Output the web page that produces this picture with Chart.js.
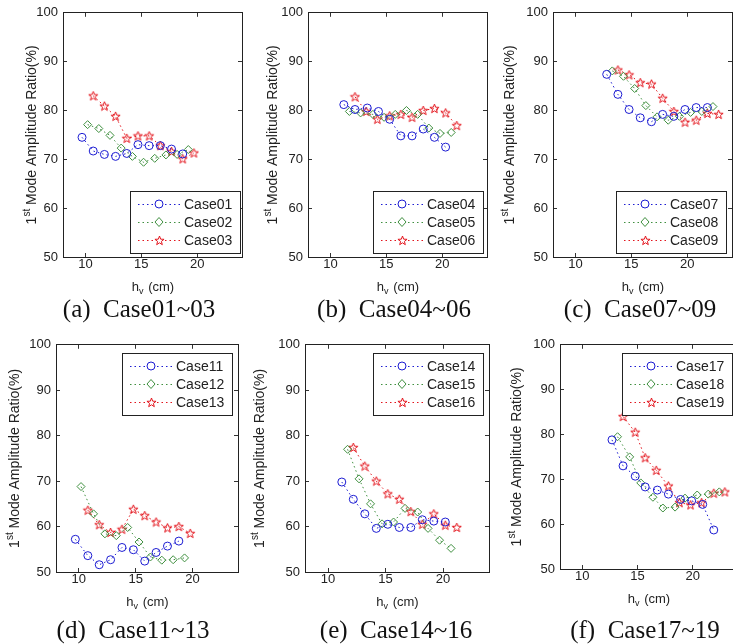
<!DOCTYPE html>
<html>
<head>
<meta charset="utf-8">
<title>1st Mode Amplitude Ratio</title>
<script src="https://cdn.jsdelivr.net/npm/chart.js@4.4.1/dist/chart.umd.min.js"></script>
<style>
    body { margin: 0; width: 733px; height: 644px; overflow: hidden; background: #fff; position: relative; }
    canvas { position: absolute; }
    .caption {
        position: absolute;
        font-family: 'Liberation Serif', 'Times New Roman', serif;
        font-size: 25px;
        line-height: 28px;
        color: #111;
        white-space: pre;
        transform: translateX(-50%);
    }
</style>
</head>
<body>
<script>
// h_v (cm) / amplitude ratio (%) pairs for each case
const case01 = [[9.7, 74.5], [10.7, 71.7], [11.7, 71.0], [12.7, 70.6], [13.7, 71.2], [14.7, 73.0], [15.7, 72.8], [16.7, 72.8], [17.7, 72.1], [18.7, 71.1]];
const case02 = [[10.2, 77.1], [11.2, 76.3], [12.2, 74.9], [13.2, 72.3], [14.2, 70.6], [15.2, 69.4], [16.2, 70.2], [17.2, 70.9], [18.2, 71.0], [19.2, 72.0]];
const case03 = [[10.7, 83.0], [11.7, 80.9], [12.7, 78.8], [13.7, 74.3], [14.7, 74.8], [15.7, 74.8], [16.7, 72.8], [17.7, 71.6], [18.7, 70.1], [19.7, 71.3]];

const case04 = [[11.2, 81.2], [12.2, 80.2], [13.3, 80.5], [14.3, 79.8], [15.3, 78.2], [16.3, 74.8], [17.3, 74.8], [18.3, 76.2], [19.3, 74.5], [20.3, 72.5]];
const case05 = [[11.7, 79.8], [12.7, 79.5], [13.8, 79.2], [14.8, 78.6], [15.8, 79.2], [16.8, 80.0], [17.8, 79.2], [18.8, 76.4], [19.8, 75.3], [20.8, 75.5]];
const case06 = [[12.2, 82.8], [13.2, 79.8], [14.2, 78.2], [15.3, 78.9], [16.3, 79.2], [17.3, 78.6], [18.3, 80.0], [19.3, 80.4], [20.3, 79.5], [21.3, 76.9]];

const case07 = [[12.8, 87.4], [13.8, 83.3], [14.8, 80.2], [15.8, 78.5], [16.8, 77.7], [17.8, 79.2], [18.8, 78.8], [19.8, 80.2], [20.8, 80.6], [21.8, 80.6]];
const case08 = [[13.3, 88.1], [14.3, 87.0], [15.3, 84.5], [16.3, 81.0], [17.3, 78.7], [18.3, 78.0], [19.3, 78.8], [20.3, 79.6], [21.3, 79.8], [22.3, 80.8]];
const case09 = [[13.8, 88.3], [14.8, 87.3], [15.8, 85.7], [16.8, 85.4], [17.8, 82.5], [18.8, 79.8], [19.8, 77.6], [20.8, 78.0], [21.8, 79.4], [22.8, 79.2]];

const case11 = [[9.7, 57.2], [10.8, 53.6], [11.8, 51.6], [12.8, 52.7], [13.8, 55.4], [14.8, 54.9], [15.8, 52.4], [16.8, 54.3], [17.8, 55.7], [18.8, 56.8]];
const case12 = [[10.2, 68.8], [11.3, 62.8], [12.3, 58.4], [13.3, 58.0], [14.3, 59.8], [15.3, 56.6], [16.3, 53.3], [17.3, 52.6], [18.3, 52.7], [19.3, 53.1]];
const case13 = [[10.8, 63.6], [11.8, 60.4], [12.8, 58.7], [13.8, 59.4], [14.8, 63.8], [15.8, 62.4], [16.8, 61.0], [17.8, 59.7], [18.8, 60.0], [19.8, 58.5]];

const case14 = [[11.2, 69.8], [12.2, 66.0], [13.2, 62.8], [14.2, 59.6], [15.2, 60.5], [16.2, 59.8], [17.2, 59.8], [18.2, 61.5], [19.2, 61.2], [20.2, 61.0]];
const case15 = [[11.7, 77.0], [12.7, 70.5], [13.7, 65.0], [14.7, 60.6], [15.7, 61.0], [16.7, 64.0], [17.8, 63.2], [18.7, 59.6], [19.7, 57.0], [20.7, 55.2]];
const case16 = [[12.2, 77.4], [13.2, 73.3], [14.2, 70.0], [15.2, 67.2], [16.2, 66.0], [17.2, 63.3], [18.2, 60.5], [19.2, 62.8], [20.2, 60.3], [21.2, 59.8]];

const case17 = [[12.7, 78.8], [13.7, 73.0], [14.8, 70.7], [15.7, 68.3], [16.8, 67.6], [17.8, 66.7], [18.9, 65.5], [19.9, 65.2], [20.9, 64.4], [21.9, 58.7]];
const case18 = [[13.2, 79.5], [14.3, 75.0], [15.3, 69.2], [16.4, 66.0], [17.3, 63.6], [18.4, 63.8], [19.3, 65.8], [20.4, 66.5], [21.4, 66.7], [22.4, 67.2]];
const case19 = [[13.7, 84.0], [14.8, 80.5], [15.7, 74.8], [16.7, 72.0], [17.8, 68.5], [18.8, 64.8], [19.8, 64.3], [20.8, 64.8], [21.9, 66.9], [22.9, 67.2]];

const xTicks = [10, 15, 20];
const yTicks = [50, 60, 70, 80, 90, 100];

const panels = [
    { labels: ['Case01', 'Case02', 'Case03'], series: [case01, case02, case03], caption: '(a)  Case01~03' },
    { labels: ['Case04', 'Case05', 'Case06'], series: [case04, case05, case06], caption: '(b)  Case04~06' },
    { labels: ['Case07', 'Case08', 'Case09'], series: [case07, case08, case09], caption: '(c)  Case07~09' },
    { labels: ['Case11', 'Case12', 'Case13'], series: [case11, case12, case13], caption: '(d)  Case11~13' },
    { labels: ['Case14', 'Case15', 'Case16'], series: [case14, case15, case16], caption: '(e)  Case14~16' },
    { labels: ['Case17', 'Case18', 'Case19'], series: [case17, case18, case19], caption: '(f)  Case17~19' }
];

// plot rectangle of every panel on the page, legend corner and inset, y-title gap, caption centre
const boxes = [
    { l: 63, t: 13, r: 242, b: 257, legend: 'bottom', inset: 2, gap: 31, capX: 139, capY: 309 },
    { l: 308, t: 13, r: 487, b: 257, legend: 'bottom', inset: 4, gap: 35, capX: 394, capY: 309 },
    { l: 553, t: 13, r: 732, b: 257, legend: 'bottom', inset: 6, gap: 43, capX: 640, capY: 309 },
    { l: 56, t: 345, r: 238, b: 572, legend: 'top', inset: 6, gap: 41, capX: 133, capY: 630 },
    { l: 305, t: 345, r: 489, b: 572, legend: 'top', inset: 6, gap: 45, capX: 396, capY: 630 },
    { l: 560, t: 345, r: 737, b: 569, legend: 'top', inset: 5, gap: 43, capX: 645, capY: 630 }
];

const PAD_L = 56, PAD_T = 8, PAD_R = 6, PAD_B = 44;
const colors = ['#1c1cd2', '#3f8f3f', '#e3141c'];
const textColor = '#222';
const sansFont = "'Liberation Sans', Arial, sans-serif";

function makeStar(color) {
    const c = document.createElement('canvas');
    c.width = 11;
    c.height = 11;
    const g = c.getContext('2d');
    g.strokeStyle = color;
    g.lineWidth = 1;
    g.beginPath();
    for (let i = 0; i < 10; i++) {
        const r = i % 2 === 0 ? 4.8 : 2.0;
        const a = -Math.PI / 2 + i * Math.PI / 5;
        const px = 5.5 + r * Math.cos(a);
        const py = 5.8 + r * Math.sin(a);
        if (i === 0) g.moveTo(px, py); else g.lineTo(px, py);
    }
    g.closePath();
    g.stroke();
    return c;
}

const pointStyles = ['circle', 'rectRot', makeStar(colors[2])];

function drawMarker(ctx, style, color, x, y) {
    if (style instanceof HTMLCanvasElement) {
        ctx.drawImage(style, Math.round(x - style.width / 2), Math.round(y - style.height / 2));
        return;
    }
    ctx.save();
    ctx.strokeStyle = color;
    ctx.lineWidth = 1;
    ctx.beginPath();
    if (style === 'circle') {
        ctx.arc(x, y, 4, 0, Math.PI * 2);
    } else {
        ctx.moveTo(x, y - 4.5);
        ctx.lineTo(x + 4, y);
        ctx.lineTo(x, y + 4.5);
        ctx.lineTo(x - 4, y);
        ctx.closePath();
    }
    ctx.stroke();
    ctx.restore();
}

// axis titles with the superscript / subscript parts
function drawTitles(chart, gap) {
    const { ctx, chartArea: a } = chart;
    ctx.save();
    ctx.fillStyle = textColor;
    ctx.textBaseline = 'middle';
    ctx.textAlign = 'left';

    const yBig = '14px ' + sansFont, ySmall = '10px ' + sansFont;
    const p1 = '1', p2 = 'st', p3 = ' Mode Amplitude Ratio(%)';
    ctx.font = yBig;
    const w1 = ctx.measureText(p1).width, w3 = ctx.measureText(p3).width;
    ctx.font = ySmall;
    const w2 = ctx.measureText(p2).width;
    ctx.translate(a.left - gap, (a.top + a.bottom) / 2);
    ctx.rotate(-Math.PI / 2);
    let x = -(w1 + w2 + w3) / 2;
    ctx.font = yBig;
    ctx.fillText(p1, x, 0);
    x += w1;
    ctx.font = ySmall;
    ctx.fillText(p2, x, -5);
    x += w2;
    ctx.font = yBig;
    ctx.fillText(p3, x, 0);
    ctx.rotate(Math.PI / 2);
    ctx.translate(-(a.left - gap), -(a.top + a.bottom) / 2);

    const xBig = '13px ' + sansFont, xSmall = '9px ' + sansFont;
    const q1 = 'h', q2 = 'v', q3 = ' (cm)';
    ctx.font = xBig;
    const v1 = ctx.measureText(q1).width, v3 = ctx.measureText(q3).width;
    ctx.font = xSmall;
    const v2 = ctx.measureText(q2).width;
    let tx = (a.left + a.right) / 2 - (v1 + v2 + v3) / 2;
    const ty = a.bottom + 30;
    ctx.font = xBig;
    ctx.fillText(q1, tx, ty);
    tx += v1;
    ctx.font = xSmall;
    ctx.fillText(q2, tx, ty + 5);
    tx += v2 + 1;
    ctx.font = xBig;
    ctx.fillText(q3, tx, ty);
    ctx.restore();
}

// boxed legend inside the plot, a dotted line with the marker in the middle
function drawLegend(chart, corner, inset) {
    const { ctx, chartArea: a } = chart;
    const w = 110, h = 62, rowH = 18;
    const top = Math.round(a.top), bottom = Math.round(a.bottom);
    const bx = Math.round(a.right) - inset - w;
    const by = corner === 'top' ? top + 8 : bottom - 4 - h;
    ctx.save();
    ctx.fillStyle = '#fff';
    ctx.fillRect(bx, by, w, h);
    ctx.strokeStyle = '#222';
    ctx.lineWidth = 1;
    ctx.strokeRect(bx + 0.5, by + 0.5, w, h);
    ctx.font = '14px ' + sansFont;
    ctx.textBaseline = 'middle';
    chart.data.datasets.forEach((ds, i) => {
        const ry = by + 13 + i * rowH;
        ctx.strokeStyle = ds.borderColor;
        ctx.setLineDash(ds.borderDash);
        ctx.beginPath();
        ctx.moveTo(bx + 8, ry + 0.5);
        ctx.lineTo(bx + 51, ry + 0.5);
        ctx.stroke();
        ctx.setLineDash([]);
        ctx.fillStyle = '#fff';
        ctx.fillRect(bx + 24, ry - 5, 10, 10);
        drawMarker(ctx, ds.pointStyle, ds.borderColor, bx + 29, ry);
        ctx.fillStyle = textColor;
        ctx.fillText(ds.label, bx + 54, ry + 1);
    });
    ctx.restore();
}

const panelDecor = {
    id: 'panelDecor',
    afterDraw(chart, args, opts) {
        drawTitles(chart, opts.gap);
        drawLegend(chart, opts.corner, opts.inset);
    }
};

// tick marks point into the plot; the four borders close the box
const tickGrid = { display: true, drawOnChartArea: false, drawTicks: true, tickLength: -4, color: '#333', lineWidth: 1 };
const boxBorder = { display: true, color: '#222', width: 1 };

function buildChart(canvas, datasets, box) {
    const setX = s => { s.ticks = xTicks.map(v => ({ value: v })); };
    const setY = s => { s.ticks = yTicks.map(v => ({ value: v })); };
    return new Chart(canvas.getContext('2d'), {
        type: 'scatter',
        data: { datasets },
        plugins: [panelDecor],
        options: {
            responsive: false,
            maintainAspectRatio: false,
            animation: false,
            devicePixelRatio: 1,
            layout: { padding: { left: 0, top: PAD_T, right: PAD_R, bottom: 0 } },
            plugins: {
                legend: { display: false },
                tooltip: { enabled: false },
                panelDecor: { gap: box.gap, corner: box.legend, inset: box.inset }
            },
            scales: {
                x: {
                    type: 'linear', position: 'bottom', min: 8, max: 24,
                    afterBuildTicks: setX,
                    afterFit: s => { s.height = PAD_B; },
                    grid: tickGrid, border: boxBorder,
                    ticks: { color: textColor, font: { family: sansFont, size: 13 }, padding: 4, maxRotation: 0 }
                },
                x2: {
                    type: 'linear', position: 'top', min: 8, max: 24,
                    afterBuildTicks: setX,
                    afterFit: s => { s.height = 0; },
                    grid: tickGrid, border: boxBorder,
                    ticks: { display: false }
                },
                y: {
                    type: 'linear', position: 'left', min: 50, max: 100,
                    afterBuildTicks: setY,
                    afterFit: s => { s.width = PAD_L; },
                    grid: tickGrid, border: boxBorder,
                    ticks: { color: textColor, font: { family: sansFont, size: 13 }, padding: 9 }
                },
                y2: {
                    type: 'linear', position: 'right', min: 50, max: 100,
                    afterBuildTicks: setY,
                    afterFit: s => { s.width = 0; },
                    grid: tickGrid, border: boxBorder,
                    ticks: { display: false }
                }
            }
        }
    });
}

function createPanel(panel, box) {
    const canvas = document.createElement('canvas');
    const cw = box.r - box.l + PAD_L + PAD_R;
    let ch = box.b - box.t + PAD_T + PAD_B;
    canvas.width = cw;
    canvas.height = ch;
    canvas.style.width = cw + 'px';
    canvas.style.height = ch + 'px';
    document.body.appendChild(canvas);

    const cap = document.createElement('div');
    cap.className = 'caption';
    cap.textContent = panel.caption;
    cap.style.left = box.capX + 'px';
    cap.style.top = (box.capY - 14) + 'px';
    document.body.appendChild(cap);

    const datasets = panel.series.map((pts, i) => ({
        label: panel.labels[i],
        data: pts.map(p => ({ x: p[0], y: p[1] })),
        xAxisID: 'x',
        yAxisID: 'y',
        showLine: true,
        borderColor: colors[i],
        borderWidth: 1,
        borderDash: [1.5, 3],
        pointStyle: pointStyles[i],
        pointRadius: 4,
        pointBorderWidth: 1,
        pointBorderColor: colors[i],
        pointBackgroundColor: 'rgba(0,0,0,0)',
        fill: false,
        tension: 0
    }));

    let chart = buildChart(canvas, datasets, box);

    // the top tick label pushes the plot down a little; grow the canvas so the plot keeps its height
    const top = Math.round(chart.chartArea.top);
    const wanted = PAD_B + top + (box.b - box.t);
    if (wanted !== ch) {
        chart.destroy();
        ch = wanted;
        canvas.width = cw;
        canvas.height = ch;
        canvas.style.width = cw + 'px';
        canvas.style.height = ch + 'px';
        chart = buildChart(canvas, datasets, box);
    }
    canvas.style.left = (box.l - chart.chartArea.left) + 'px';
    canvas.style.top = (box.t - Math.round(chart.chartArea.top)) + 'px';
}

panels.forEach((p, i) => createPanel(p, boxes[i]));
</script>
</body>
</html>
